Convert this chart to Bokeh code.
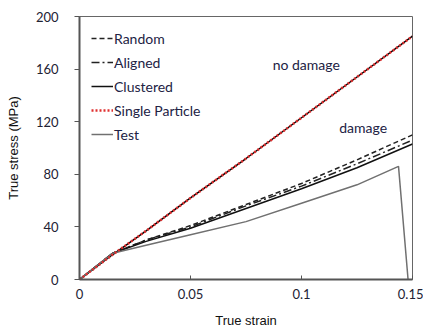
from bokeh.plotting import figure
from bokeh.embed import file_html
from bokeh.resources import INLINE
from bokeh.models import Range1d, Legend, LegendItem, Label, FixedTicker

strain = [0, 0.015, 0.03, 0.05, 0.075, 0.1, 0.125, 0.15]
no_damage = [0, 19, 37, 62, 92, 123, 154, 185]
random_s = [0, 20, 30, 41, 57, 73, 91, 110]
aligned_s = [0, 20, 30, 40, 56, 71, 88, 106]
clustered_s = [0, 20, 29, 39, 54, 69, 85, 103]
test_strain = [0, 0.015, 0.03, 0.05, 0.075, 0.1, 0.125, 0.1437, 0.148]
test_s = [0, 20, 26, 34, 44, 58, 72, 86, 0]
x_ticks = [0, 0.05, 0.1, 0.15]
x_tick_labels = {0: "0", 0.05: "0.05", 0.1: "0.1", 0.15: "0.15"}
y_ticks = [0, 40, 80, 120, 160, 200]

p = figure(width=423, height=331, output_backend="svg", toolbar_location=None,
           x_range=Range1d(0, 0.15), y_range=Range1d(0, 200),
           min_border_left=79, min_border_right=11, min_border_top=16, min_border_bottom=52)
p.background_fill_color = "white"
p.border_fill_color = "white"
p.outline_line_color = "#666666"
p.outline_line_width = 1
p.grid.visible = False

p.xaxis.ticker = FixedTicker(ticks=x_ticks)
p.xaxis.major_label_overrides = x_tick_labels
p.yaxis.ticker = FixedTicker(ticks=y_ticks)
for ax in (p.xaxis[0], p.yaxis[0]):
    ax.axis_line_color = "#555555"
    ax.axis_line_width = 2
    ax.major_tick_line_color = "#555555"
    ax.minor_tick_line_color = None
    ax.major_label_text_font = "Lato"
    ax.major_label_text_font_size = "13px"
    ax.major_label_text_color = "#222233"
    ax.axis_label_text_font = "Liberation Sans"
    ax.axis_label_text_font_size = "13px"
    ax.axis_label_text_font_style = "normal"
    ax.axis_label_text_color = "#111111"
p.xaxis.major_tick_in = 4
p.xaxis.major_tick_out = 0
p.yaxis.major_tick_in = 0
p.yaxis.major_tick_out = 5
p.yaxis.major_label_standoff = 16
p.xaxis.axis_label = "True strain"
p.yaxis.axis_label = "True stress (MPa)"
p.xaxis.axis_label_standoff = 11
p.yaxis.axis_label_standoff = 12
p.xaxis.major_label_standoff = 9

nd_black = p.line(strain, no_damage, line_color="black", line_width=1.5)
r_rand = p.line(strain, random_s, line_color="#222222", line_width=1.5, line_dash="5 3")
r_align = p.line(strain, aligned_s, line_color="#222222", line_width=1.5, line_dash="8 3 2 3")
r_clus = p.line(strain, clustered_s, line_color="#111111", line_width=1.5)
r_test = p.line(test_strain, test_s, line_color="#707070", line_width=1.5)
r_single = p.line(strain, no_damage, line_color="#e03030", line_width=2.5, line_dash="2 2")

legend = Legend(items=[
    LegendItem(label="Random", renderers=[r_rand]),
    LegendItem(label="Aligned", renderers=[r_align]),
    LegendItem(label="Clustered", renderers=[r_clus]),
    LegendItem(label="Single Particle", renderers=[r_single]),
    LegendItem(label="Test", renderers=[r_test]),
], location="top_left")
legend.background_fill_alpha = 0
legend.border_line_alpha = 0
legend.label_text_font = "Lato"
legend.label_text_font_size = "14px"
legend.label_text_color = "#222244"
legend.glyph_width = 22
legend.glyph_height = 20
legend.label_height = 20
legend.spacing = 4
legend.padding = 6
legend.margin = 6
legend.label_standoff = 1
p.add_layout(legend)

p.add_layout(Label(x=0.087, y=157, text="no damage", text_font="Lato",
                   text_font_size="14px", text_color="#222244"))
p.add_layout(Label(x=0.117, y=109, text="damage", text_font="Lato",
                   text_font_size="14px", text_color="#222244"))

open("out.html", "w").write(file_html(p, INLINE))
